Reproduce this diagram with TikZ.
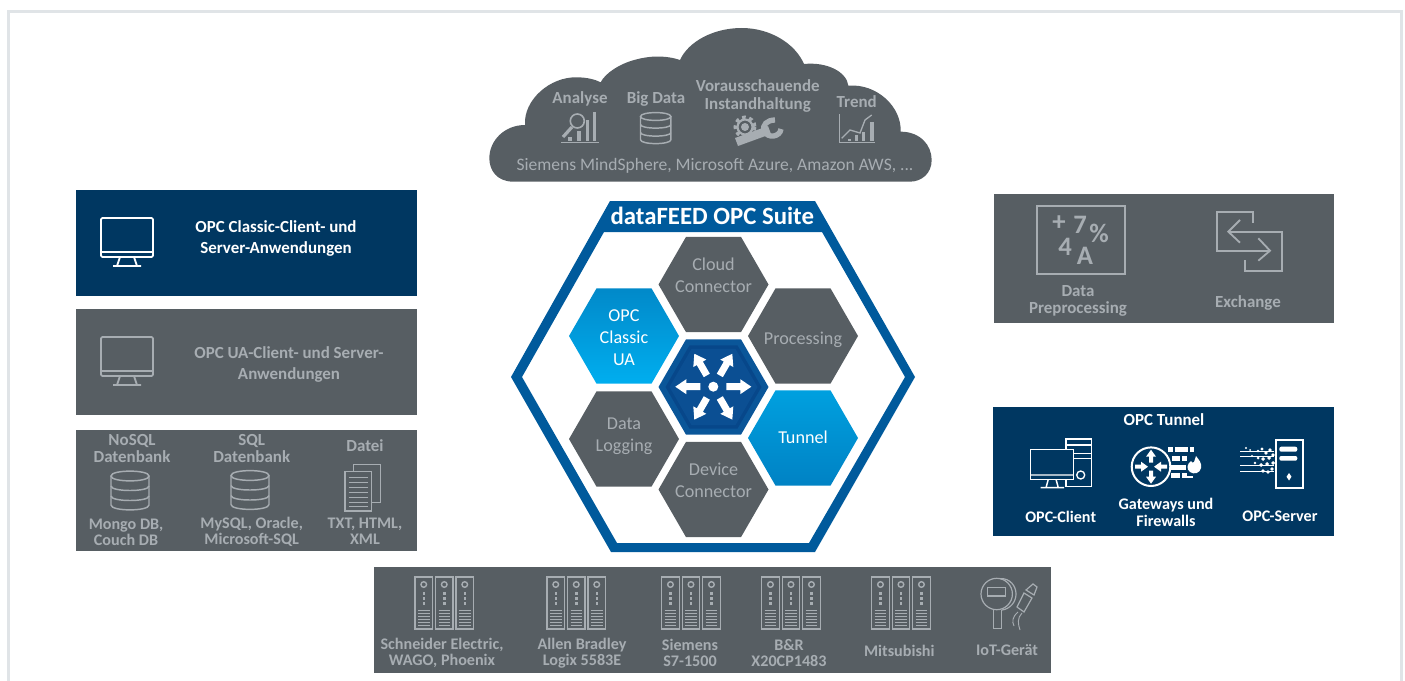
\documentclass[tikz,border=0pt]{standalone}
\usepackage{fontspec}
\setmainfont{Carlito}
\usetikzlibrary{shapes.geometric}
\definecolor{slate}{HTML}{575E63}
\definecolor{mist}{HTML}{A7ADB2}
\definecolor{navy}{HTML}{003761}
\definecolor{suite}{HTML}{005A9C}
\definecolor{framec}{HTML}{E0E4E7}
\definecolor{opctop}{HTML}{0189C9}
\definecolor{opcbot}{HTML}{00AEEF}
\definecolor{tuntop}{HTML}{00A0DF}
\definecolor{tunbot}{HTML}{0082C4}
\definecolor{hubA}{HTML}{0A5699}
\definecolor{hubB}{HTML}{07478A}
\definecolor{hubC}{HTML}{0B4F93}
\tikzset{
  hexa/.style={regular polygon,regular polygon sides=6,inner sep=0pt,minimum size=82.5pt,draw=none},
  hexgrey/.style={hexa,fill=slate},
  hexblue/.style={hexa},
  lbl/.style={align=center,inner sep=0pt,font=\bfseries\fontsize{12.7}{15.75}\selectfont},
  lblsm/.style={lbl,font=\bfseries\fontsize{12.7}{12.2}\selectfont},
  lblbot/.style={lbl,font=\bfseries\fontsize{12.1}{12.2}\selectfont},
  hexlbl/.style={align=center,inner sep=0pt,font=\fontsize{13.6}{16.5}\selectfont},
  icon/.style={line width=1.35pt,line join=miter},
  thin icon/.style={line width=1.05pt},
  monitoricon/.pic={
    \draw[icon,rounded corners=1pt] (0,0) rectangle (52,39);
    \draw[icon] (0,34)--(52,34) (19,39)--(16,48) (33,39)--(36,48) (12,48)--(40,48);
  },
  dbicon/.pic={
    \draw[icon,line width=1.1pt] (0,5) .. controls (0,-1.5) and (38,-1.5) .. (38,5) .. controls (38,11.5) and (0,11.5) .. (0,5) -- cycle;
    \draw[icon,line width=1.1pt] (0,5)--(0,34) .. controls (0,40.5) and (38,40.5) .. (38,34)--(38,5);
    \draw[icon,line width=1.1pt] (0,15) .. controls (0,21) and (38,21) .. (38,15);
    \draw[icon,line width=1.1pt] (0,25) .. controls (0,31) and (38,31) .. (38,25);
  },
  rackicon/.pic={
    \foreach \m in {0,20.5,41}{
      \begin{scope}[shift={(\m,0)}]
        \draw[thin icon] (0,0) rectangle (17.5,52);
        \draw[thin icon] (8.75,7.5) circle (2.8);
        \foreach \d in {16,21,26} \fill (7.5,\d-1.5) rectangle (10,\d+1.5);
        \foreach \d in {33.5,36.5,39.5,42.5,45.5,48.5} \draw[line width=.85pt] (3,\d)--(14.5,\d);
      \end{scope}
    }
  }
}
\begin{document}
\begin{tikzpicture}[x=.75pt,y=-.75pt]
\useasboundingbox (0,0) rectangle (1405,681);
% frame
\draw[framec,line width=2.25pt] (8.5,690)--(8.5,11.5)--(1401.5,11.5)--(1401.5,690);

% cloud
\begin{scope}[shift={(480,20)},x=.25pt,y=-.25pt]
\fill[slate] (100,485) .. controls (50,485) and (28,450) .. (28,415)
 .. controls (28,360) and (75,315) .. (135,315)
 .. controls (130,240) and (210,170) .. (290,172)
 .. controls (320,172) and (345,178) .. (362,187)
 .. controls (375,160) and (420,130) .. (470,118)
 .. controls (520,105) and (565,108) .. (600,120)
 .. controls (625,65) and (700,24) .. (785,24)
 .. controls (870,24) and (945,70) .. (972,132)
 .. controls (1040,125) and (1100,155) .. (1105,197)
 .. controls (1190,190) and (1265,260) .. (1262,335)
 .. controls (1320,335) and (1355,375) .. (1355,420)
 .. controls (1355,460) and (1325,485) .. (1290,485) -- cycle;
\end{scope}
\node[lbl,text=mist] (tAnalyse) at (580,98.5) {Analyse};
\node[lbl,text=mist] (tBig) at (656,98.5) {Big Data};
\node[lblsm,text=mist,font=\bfseries\fontsize{12.7}{13.2}\selectfont] (tVor) at (757.7,96) {Vorausschauende\\Instandhaltung};
\node[lbl,text=mist] (tTrend) at (856.7,102) {Trend};
\node[align=center,inner sep=0pt,text=mist,font=\fontsize{13.15}{16}\selectfont] (tCloud) at (715,165.5) {Siemens MindSphere, Microsoft Azure, Amazon AWS, ...};
% analyse icon
\begin{scope}[mist]
\draw[line width=1.2pt] (577.3,121) circle (7);
\draw[line width=2.4pt] (572,127)--(563,137);
\draw[line width=1.1pt] (561,142.7)--(599.3,142.7);
\fill (568,137) rectangle (572,141);
\fill (577,131) rectangle (581,141);
\fill (586,120) rectangle (589,141);
\fill (593,112) rectangle (596,141);
\end{scope}
\pic[color=mist,scale=.8] at (640.5,112.5) {dbicon};
% gear + wrench
\begin{scope}[mist]
\draw[line width=3pt,dash pattern=on 2.6pt off 2.6pt] (745,127) circle (9.5);
\draw[line width=1.6pt] (745,127) circle (7.5);
\fill (745,127) circle (4);
\fill (735,138)--(768,126)--(771,134)--(738,146)--cycle;
\draw[line width=4pt] (764,131) .. controls (768,139) and (780,137) .. (781,129);
\draw[line width=4pt] (764,131) .. controls (762,125) and (767,120) .. (775,120);
\end{scope}
% trend icon
\begin{scope}[mist]
\draw[line width=1.1pt] (839.3,114.3)--(839.3,142.7)--(875,142.7);
\fill (848,139) rectangle (851,141);
\fill (855,135) rectangle (858,141);
\fill (862,132) rectangle (865,141);
\fill (870,122) rectangle (874,141);
\draw[line width=1pt] (841.7,138.3)--(850,130)--(860,133)--(865,120)--(871.7,115);
\end{scope}

% left panels
\fill[navy] (76,190) rectangle (417,296);
\fill[slate] (76,309) rectangle (417,415);
\fill[slate] (76,430) rectangle (417,551);
\pic[color=white] at (101,218) {monitoricon};
\pic[color=mist] at (101,337) {monitoricon};
\node[lbl,text=white] (tClassic) at (276,238.5) {OPC Classic-Client- und\\Server-Anwendungen};
\node[lbl,text=mist] (tUA) at (289,364.5) {OPC UA-Client- und Server-\\Anwendungen};
\node[lblsm,text=mist] (tNo) at (132,448.5) {NoSQL\\Datenbank};
\node[lblsm,text=mist] (tSql) at (251.7,448.5) {SQL\\Datenbank};
\node[lbl,text=mist] (tDatei) at (365,445.7) {Datei};
\node[lblbot,text=mist] (tMongo) at (126,532) {Mongo DB,\\Couch DB};
\node[lblbot,text=mist] (tMy) at (251.7,532) {MySQL, Oracle,\\Microsoft-SQL};
\node[lblbot,text=mist] (tTxt) at (365,531) {TXT, HTML,\\XML};
\pic[color=mist] at (111,471) {dbicon};
\pic[color=mist] at (231,470.5) {dbicon};
\begin{scope}[mist]
\draw[line width=.9pt] (353.3,471.7)--(353.3,464.3)--(380.7,464.3)--(380.7,502.7)--(371.7,502.7);
\draw[line width=.9pt] (345,471.7) rectangle (371.7,511);
\foreach \d in {477,482,487,492,497,502,506} \draw[line width=.7pt] (348.5,\d)--(368,\d);
\end{scope}

% suite hexagon
\fill[suite,even odd rule] (610,201)--(815,201)--(915,377)--(815,552)--(611,552)--(511,377)--cycle
  (604,232)--(822,232)--(905,377)--(809,543)--(617,543)--(522,377)--cycle;
\node[inner sep=0pt,text=white,font=\bfseries\fontsize{18.6}{20}\selectfont] (tSuite) at (712.3,216) {dataFEED OPC Suite};
\node[hexgrey] (hCloud) at (713.5,284.5) {};
\node[hexgrey] (hProc) at (803,336) {};
\node[hexblue,top color=opctop,bottom color=opcbot] (hOpc) at (624,336) {};
\node[hexgrey] (hData) at (624,439) {};
\node[hexgrey] (hDev) at (713.5,489.5) {};
\node[hexblue,top color=tuntop,bottom color=tunbot] (hTun) at (803,438) {};
\node[hexa,fill=hubA] (hHub) at (713.5,387) {};
\node[hexa,fill=hubB,minimum size=72pt] (hHubB) at (713.5,387) {};
\node[hexa,fill=hubC,minimum size=66pt] (hHubC) at (713.5,387) {};
\foreach \a in {0,60,120,180,240,300}
  \fill[white,shift={(713.3,386.7)},rotate=\a] (13,-3.5)--(27,-3.5)--(27,-7.5)--(38,0)--(27,7.5)--(27,3.5)--(13,3.5)--cycle;
\fill[white] (713.3,386.7) circle (5);
\node[hexlbl,text=mist] (tCc) at (713.5,275.3) {Cloud\\Connector};
\node[hexlbl,text=mist] (tPr) at (803,340) {Processing};
\node[hexlbl,text=white] (tOp) at (624,338) {OPC\\Classic\\UA};
\node[hexlbl,text=mist] (tDl) at (624,436.3) {Data\\Logging};
\node[hexlbl,text=mist] (tDc) at (713.5,480.3) {Device\\Connector};
\node[hexlbl,text=white] (tTu) at (803,437.3) {Tunnel};

% right panels
\fill[slate] (994,194) rectangle (1334,323);
\fill[navy] (993,407) rectangle (1334,536);
\begin{scope}[mist]
\draw[line width=1.35pt] (1036.7,205.7) rectangle (1125,274);
\node[inner sep=0pt,text=mist,font=\bfseries\fontsize{20}{20}\selectfont] (pPlus) at (1059,223) {+};
\node[inner sep=0pt,text=mist,font=\bfseries\fontsize{20}{20}\selectfont] (pSeven) at (1080,225) {7};
\node[inner sep=0pt,text=mist,font=\bfseries\fontsize{20}{20}\selectfont] (pPct) at (1099,233) {\%};
\node[inner sep=0pt,text=mist,font=\bfseries\fontsize{20}{20}\selectfont] (pFour) at (1065,247) {4};
\node[inner sep=0pt,text=mist,font=\bfseries\fontsize{20}{20}\selectfont] (pA) at (1085,256) {A};
\draw[line width=1.35pt] (1253.3,222.7)--(1253.3,211.7)--(1216.7,211.7)--(1216.7,250.7)--(1270,250.7);
\draw[line width=1.35pt] (1258.3,238.3)--(1270,250.7)--(1258.3,260.7);
\draw[line width=1.35pt] (1228.3,231.7)--(1281.7,231.7)--(1281.7,271)--(1245,271)--(1245,260);
\draw[line width=1.35pt] (1240,220)--(1228.3,231.7)--(1240,242.7);
\end{scope}
\node[lblsm,text=mist] (tPre) at (1078,301) {Data\\Preprocessing};
\node[lbl,text=mist] (tEx) at (1248,302.5) {Exchange};
\node[lbl,text=white] (tOt) at (1164,420) {OPC Tunnel};
\node[lblbot,text=white] (tCl) at (1060.7,516.5) {OPC-Client};
\node[lblbot,text=white] (tGw) at (1166,512.5) {Gateways und\\Firewalls};
\node[lblbot,text=white] (tSv) at (1280,516.5) {OPC-Server};
\begin{scope}[white]
% client
\draw[line width=1.1pt] (1066,449.3)--(1066,439)--(1091.7,439)--(1091.7,486.7)--(1066,486.7)--(1066,479.3);
\draw[line width=1pt] (1066,445)--(1091.7,445) (1073.3,453.3)--(1091.7,453.3) (1073.3,458.3)--(1091.7,458.3);
\draw[line width=1pt] (1080.7,475) circle (4);
\draw[line width=1.1pt] (1030.7,449.3) rectangle (1073.3,479.3);
\draw[line width=1.1pt] (1030.7,475)--(1073.3,475) (1048.3,479.3)--(1046,487.7) (1056,479.3)--(1058.3,487.7) (1040.7,487.7)--(1064,487.7);
% gateway
\draw[line width=1.5pt] (1151,466.7) circle (19.3);
\foreach \a in {90,270}
  \fill[shift={(1151,466.7)},rotate=\a] (4,-2)--(10,-2)--(10,-5)--(17,0)--(10,5)--(10,2)--(4,2)--cycle;
\foreach \a in {0,180}
  \fill[shift={(1151,466.7)},rotate=\a] (16,-2)--(10,-2)--(10,-5)--(3,0)--(10,5)--(10,2)--(16,2)--cycle;
\foreach \xa/\xb/\ya/\yb in {1168/1173/446.7/451.7,1175/1188/446.7/451.7,1190/1194/446.7/451.7,1172/1180/455.7/460.7,1182/1190/455.7/460.7,1171/1186/465/469.5,1171/1180/473/478,1182/1193/473/478}
  \fill (\xa,\ya) rectangle (\xb,\yb);
\fill[navy] (1187,454) rectangle (1205,476);
\fill (1196,456) .. controls (1199,460) and (1202,463) .. (1201,468) .. controls (1200,473) and (1194,475) .. (1190,472) .. controls (1186,469) and (1187,464) .. (1191,461) .. controls (1192,463) and (1193,463) .. (1194,462) .. controls (1195,460) and (1195,458) .. (1196,456) -- cycle;
% server
\draw[line width=1.2pt] (1276,440) rectangle (1302.7,487.7);
\fill[rounded corners=1.5pt] (1279.3,446.7) rectangle (1297.3,451.7);
\fill[rounded corners=1.5pt] (1279.3,456) rectangle (1297.3,460.7);
\fill (1289,473)--(1291.5,476.7)--(1289,480.5)--(1286.5,476.7)--cycle;
\foreach \yy in {451.7,456.7,465,471.7} \draw[line width=.4pt] (1240,\yy)--(1274,\yy);
\foreach \cx/\cy/\r in {1246/448/1.2,1250/450/1,1252/456/1.2,1258/451/1.3,1262/449/1.6,1266/453/1.8,1270/450/1.8,1258/458/1.5,1263/459/2,1269/458/2,1273/455/1.8,1255/463/1.3,1261/465/2,1267/464/2,1273/463/2,1263/471/1.8,1268/472/1.8,1272/469/1.8}
  \fill (\cx-\r,\cy)--(\cx,\cy-\r)--(\cx+\r,\cy)--(\cx,\cy+\r)--cycle;
\end{scope}

% bottom panel
\fill[slate] (374,567) rectangle (1051,673);
\foreach \px in {415,547,661.7,761.7,871.7}
  \pic[color=mist] at (\px,577) {rackicon};
\begin{scope}[mist]
\draw[line width=.9pt] (996.7,594) circle (15.7);
\draw[line width=.9pt] (1000,578.6) .. controls (1010,578) and (1016,586) .. (1016,594) .. controls (1016,602) and (1010,609) .. (1002,610);
\draw[line width=.9pt] (987.3,587.3) rectangle (1005.7,596);
\draw[line width=.9pt] (993.3,609.6)--(993.3,628.3)--(1001.7,628.3)--(1001.7,609.6);
\draw[line width=.9pt] (1017,607)--(1024,593)--(1032,598)--(1024,612)--cycle;
\draw[line width=.9pt] (1026,590)--(1033,584)--(1037,587)--(1034,595)--cycle;
\draw[line width=.7pt] (1018,612) .. controls (1012,617) and (1012,622) .. (1014,626);
\draw[line width=.7pt] (1022,613) .. controls (1017,618) and (1018,624) .. (1020,630);
\end{scope}
\node[lblbot,text=mist] (tSc) at (442,653) {Schneider Electric,\\WAGO, Phoenix};
\node[lblbot,text=mist] (tAb) at (582,653) {Allen Bradley\\Logix 5583E};
\node[lblbot,text=mist] (tSi) at (690,653) {Siemens\\S7-1500};
\node[lblbot,text=mist] (tBr) at (789,653) {B\&R\\X20CP1483};
\node[lblbot,text=mist] (tMi) at (899.3,650.5) {Mitsubishi};
\node[lblbot,text=mist] (tIo) at (1007,650.5) {IoT-Gerät};
\end{tikzpicture}
\end{document}
